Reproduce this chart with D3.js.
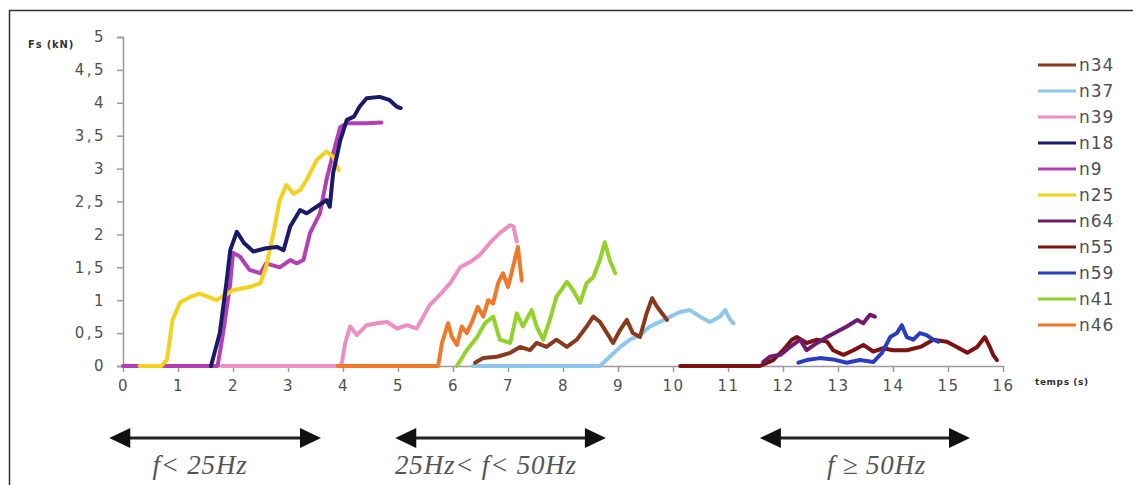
<!DOCTYPE html>
<html>
<head>
<meta charset="utf-8">
<script src="https://cdn.jsdelivr.net/npm/d3@7"></script>
<style>
  body { margin: 0; background: #fff; }
  svg { display: block; }
</style>
</head>
<body>
<svg id="chart" width="1133" height="485"></svg>
<script>
// series names, colours and [t (s), Fs (kN)] points
var names = ["n34", "n37", "n39", "n18", "n9", "n25", "n64", "n55", "n59", "n41", "n46"];
var colors = ["#8a3a1c", "#8ec6ec", "#ee8fc4", "#1a1a6a", "#b33fb3", "#f2d21c", "#6e1a6e", "#7d1010", "#2a3cc0", "#92d22a", "#f07828"];

var n34 = [[6.4,0.05],[6.55,0.12],[6.8,0.14],[7.04,0.2],[7.22,0.29],[7.4,0.24],[7.52,0.35],[7.7,0.29],[7.88,0.4],[8.07,0.29],[8.25,0.4],[8.43,0.6],[8.55,0.75],[8.67,0.67],[8.8,0.5],[8.91,0.35],[9.04,0.55],[9.16,0.7],[9.27,0.5],[9.4,0.44],[9.52,0.8],[9.62,1.03],[9.71,0.9],[9.82,0.78],[9.89,0.7]];
var n37 = [[6.36,0],[8.67,0],[8.85,0.14],[9.04,0.29],[9.22,0.4],[9.4,0.47],[9.58,0.6],[9.76,0.67],[9.95,0.75],[10.13,0.82],[10.31,0.85],[10.49,0.75],[10.67,0.67],[10.85,0.75],[10.95,0.85],[11.04,0.7],[11.1,0.65]];
var n39 = [[1.8,0],[3.95,0],[3.98,0.05],[4.04,0.35],[4.13,0.6],[4.25,0.47],[4.43,0.62],[4.62,0.65],[4.8,0.67],[4.98,0.57],[5.16,0.62],[5.34,0.57],[5.46,0.75],[5.58,0.93],[5.76,1.08],[5.95,1.26],[6.13,1.5],[6.31,1.58],[6.49,1.69],[6.67,1.87],[6.85,2.02],[7.04,2.14],[7.1,2.12],[7.16,1.89]];
var n18 = [[1.6,0],[1.76,0.5],[1.88,1.26],[1.95,1.76],[2.07,2.04],[2.2,1.87],[2.37,1.74],[2.6,1.79],[2.8,1.81],[2.92,1.76],[3.04,2.12],[3.22,2.37],[3.34,2.32],[3.52,2.42],[3.7,2.52],[3.76,2.42],[3.82,2.93],[3.95,3.43],[4.07,3.74],[4.2,3.79],[4.3,3.94],[4.43,4.07],[4.67,4.09],[4.85,4.04],[4.98,3.94],[5.05,3.92]];
var n9 = [[0,0],[1.72,0],[1.82,0.5],[1.95,1.26],[2.0,1.72],[2.13,1.66],[2.3,1.46],[2.5,1.41],[2.6,1.56],[2.85,1.5],[3.04,1.61],[3.16,1.56],[3.28,1.61],[3.4,2.02],[3.58,2.32],[3.7,2.83],[3.82,3.23],[3.95,3.63],[4.07,3.69],[4.43,3.69],[4.7,3.7]];
var n25 = [[0.3,0],[0.7,0],[0.8,0.1],[0.9,0.7],[1.04,0.97],[1.22,1.05],[1.4,1.1],[1.7,1.0],[2.0,1.15],[2.3,1.2],[2.5,1.26],[2.6,1.5],[2.73,2.0],[2.85,2.52],[2.97,2.75],[3.1,2.62],[3.22,2.67],[3.34,2.83],[3.52,3.13],[3.7,3.26],[3.82,3.18],[3.92,2.98]];
var n64 = [[11.64,0.06],[11.76,0.14],[11.95,0.17],[12.13,0.29],[12.31,0.4],[12.43,0.24],[12.62,0.35],[12.8,0.44],[12.98,0.52],[13.16,0.6],[13.35,0.7],[13.46,0.65],[13.58,0.78],[13.67,0.75]];
var n55 = [[10.13,0],[11.58,0],[11.82,0.09],[12.0,0.24],[12.16,0.4],[12.25,0.44],[12.43,0.35],[12.62,0.4],[12.8,0.37],[12.91,0.24],[13.1,0.17],[13.28,0.24],[13.46,0.32],[13.64,0.22],[13.82,0.27],[14.0,0.24],[14.25,0.24],[14.5,0.29],[14.73,0.4],[14.98,0.37],[15.16,0.29],[15.35,0.2],[15.53,0.29],[15.67,0.44],[15.76,0.29],[15.82,0.17],[15.89,0.09]];
var n59 = [[12.28,0.05],[12.43,0.09],[12.67,0.12],[12.91,0.1],[13.16,0.05],[13.4,0.09],[13.64,0.06],[13.8,0.2],[13.95,0.44],[14.07,0.5],[14.16,0.62],[14.25,0.44],[14.37,0.4],[14.49,0.5],[14.61,0.47],[14.73,0.4],[14.82,0.37]];
var n41 = [[6.07,0],[6.25,0.24],[6.44,0.44],[6.58,0.65],[6.73,0.75],[6.85,0.4],[7.04,0.35],[7.16,0.8],[7.27,0.6],[7.43,0.85],[7.52,0.6],[7.64,0.4],[7.76,0.7],[7.88,1.05],[8.07,1.28],[8.18,1.16],[8.31,0.96],[8.43,1.26],[8.55,1.35],[8.67,1.61],[8.76,1.88],[8.85,1.61],[8.95,1.41]];
var n46 = [[3.9,0],[5.73,0],[5.8,0.35],[5.91,0.65],[5.98,0.44],[6.07,0.32],[6.16,0.6],[6.25,0.5],[6.36,0.7],[6.45,0.9],[6.55,0.75],[6.64,1.0],[6.73,0.95],[6.82,1.26],[6.91,1.41],[7.0,1.2],[7.09,1.5],[7.18,1.81],[7.25,1.3]];
var seriesData = [n34, n37, n39, n18, n9, n25, n64, n55, n59, n41, n46];

// drawing order (back to front)
var drawOrder = ["n39", "n9", "n37", "n46", "n25", "n18", "n34", "n41", "n55", "n64", "n59"];

var xTicks = d3.range(0, 17);
var yTicks = [0, 0.5, 1, 1.5, 2, 2.5, 3, 3.5, 4, 4.5, 5];
var yTickLabels = ["0", "0,5", "1", "1,5", "2", "2,5", "3", "3,5", "4", "4,5", "5"];

// frequency bands under the axis: arrow span and label centre, in seconds
var bands = [[-0.25, 3.6], [4.95, 8.78], [11.58, 15.4]];
var bandLabelAt = [1.4, 6.6, 13.7];
var bandLabels = ["f< 25Hz", "25Hz< f< 50Hz", "f \u2265 50Hz"];

var svg = d3.select("#chart");

// frame (picture is cropped: only top and left edges show)
svg.append("path")
    .attr("d", "M9.5,485 V10.5 H1133")
    .attr("fill", "none")
    .attr("stroke", "#333")
    .attr("stroke-width", 1.5);

var x = d3.scaleLinear().domain([0, 16]).range([123, 1003]);
var y = d3.scaleLinear().domain([0, 5]).range([366, 37]);

var axisColor = "#9a9a9a";
var labelColor = "#505050";
var tickFont = "15px 'DejaVu Sans', Verdana, sans-serif";

var yAxis = svg.append("g")
    .attr("transform", "translate(" + x(0) + ",0)")
    .call(d3.axisLeft(y).tickValues(yTicks).tickSize(6).tickPadding(11)
        .tickFormat(function(d, i) { return yTickLabels[i]; }));
yAxis.select(".domain").attr("stroke", axisColor).attr("stroke-width", 1.5);
yAxis.selectAll(".tick line").attr("stroke", axisColor).attr("stroke-width", 1.5);
yAxis.selectAll("text")
    .attr("fill", labelColor)
    .style("font", tickFont)
    .style("letter-spacing", "2.5px");

var xAxis = svg.append("g")
    .attr("transform", "translate(0," + y(0) + ")")
    .call(d3.axisBottom(x).tickValues(xTicks).tickSize(6).tickSizeOuter(0).tickPadding(8)
        .tickFormat(d3.format("d")));
xAxis.select(".domain").attr("stroke", axisColor).attr("stroke-width", 1.5);
xAxis.selectAll(".tick line").attr("stroke", axisColor).attr("stroke-width", 1.5);
xAxis.selectAll("text")
    .attr("fill", labelColor)
    .style("font", tickFont)
    .style("letter-spacing", "1.5px");

svg.append("text")
    .attr("x", 28).attr("y", 48)
    .attr("fill", "#333")
    .style("font", "bold 10px 'DejaVu Sans', Verdana, sans-serif")
    .style("letter-spacing", "0.8px")
    .text("Fs (kN)");

svg.append("text")
    .attr("x", 1035).attr("y", 385)
    .attr("fill", "#333")
    .style("font", "bold 9px 'DejaVu Sans', Verdana, sans-serif")
    .style("letter-spacing", "0.6px")
    .text("temps (s)");

var line = d3.line()
    .x(function(d) { return x(d[0]); })
    .y(function(d) { return y(d[1]); });

drawOrder.forEach(function(name) {
  var i = names.indexOf(name);
  svg.append("path")
      .datum(seriesData[i])
      .attr("fill", "none")
      .attr("stroke", colors[i])
      .attr("stroke-width", 4)
      .attr("stroke-linejoin", "round")
      .attr("stroke-linecap", "round")
      .attr("d", line);
});

// legend
var legend = svg.append("g");
names.forEach(function(name, i) {
  var yy = 65 + i * 26;
  legend.append("line")
      .attr("x1", 1038).attr("x2", 1076)
      .attr("y1", yy).attr("y2", yy)
      .attr("stroke", colors[i])
      .attr("stroke-width", 3);
  legend.append("text")
      .attr("x", 1079).attr("y", yy + 6)
      .attr("fill", labelColor)
      .style("font", "17px 'DejaVu Sans', Verdana, sans-serif")
      .style("letter-spacing", "1px")
      .text(name);
});

// frequency band arrows
var arrowY = 438;
bands.forEach(function(b, i) {
  var x0 = x(b[0]), x1 = x(b[1]);
  var g = svg.append("g");
  g.append("line")
      .attr("x1", x0 + 10).attr("x2", x1 - 10)
      .attr("y1", arrowY).attr("y2", arrowY)
      .attr("stroke", "#222").attr("stroke-width", 3);
  g.append("path")
      .attr("d", "M" + x0 + "," + arrowY + " L" + (x0 + 21) + "," + (arrowY - 10) + " L" + (x0 + 21) + "," + (arrowY + 10) + "Z")
      .attr("fill", "#111");
  g.append("path")
      .attr("d", "M" + x1 + "," + arrowY + " L" + (x1 - 21) + "," + (arrowY - 10) + " L" + (x1 - 21) + "," + (arrowY + 10) + "Z")
      .attr("fill", "#111");
  g.append("text")
      .attr("x", x(bandLabelAt[i])).attr("y", 474)
      .attr("text-anchor", "middle")
      .attr("fill", "#555")
      .style("font", "italic 27px 'Liberation Serif', 'Times New Roman', serif")
      .style("letter-spacing", "0.8px")
      .text(bandLabels[i]);
});
</script>
</body>
</html>
